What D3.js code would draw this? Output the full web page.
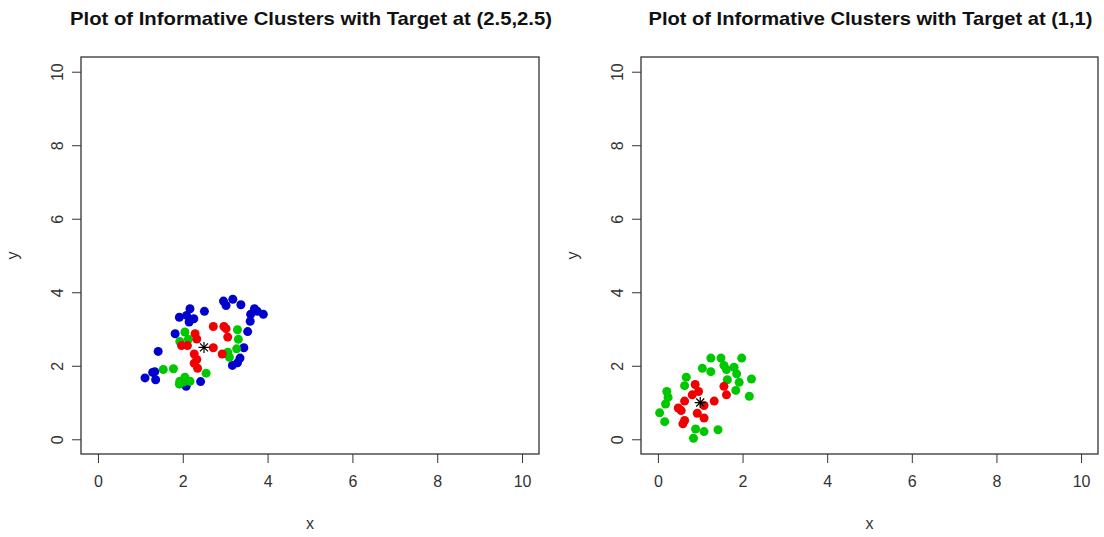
<!DOCTYPE html>
<html>
<head>
<meta charset="utf-8">
<script src="https://cdn.jsdelivr.net/npm/d3@7"></script>
<style>
  body { margin: 0; background: #fff; }
  svg { display: block; }
</style>
</head>
<body>
<div id="chart"></div>
<script>
// values
var titles = ["Plot of Informative Clusters with Target at (2.5,2.5)",
              "Plot of Informative Clusters with Target at (1,1)"];
var tickValues = [0, 2, 4, 6, 8, 10];
var targets = [[2.5, 2.5], [1, 1]];

var leftBlue = [[2.96,3.76],[3.02,3.64],[3.18,3.81],[3.37,3.66],[2.17,3.55],[2.51,3.48],
  [1.92,3.32],[2.09,3.37],[2.26,3.28],[2.15,3.19],[3.69,3.55],[3.76,3.48],[3.60,3.40],
  [3.90,3.40],[3.59,3.21],[3.53,2.93],[1.82,2.87],[1.42,2.39],[3.44,2.49],[3.35,2.21],
  [3.29,2.08],[3.17,2.01],[1.34,1.84],[1.29,1.82],[1.11,1.67],[1.36,1.62],[2.42,1.57],
  [2.08,1.44]];
var leftRed = [[2.72,3.07],[2.97,3.07],[3.02,3.01],[3.06,2.78],[2.29,2.87],[2.33,2.73],
  [1.97,2.55],[2.11,2.55],[2.72,2.49],[2.93,2.32],[2.27,2.32],[2.33,2.17],[2.27,2.07],
  [2.35,1.93]];
var leftGreen = [[2.05,2.92],[1.93,2.66],[2.13,2.72],[3.29,2.98],[3.31,2.72],[3.27,2.46],
  [3.06,2.37],[3.10,2.23],[1.54,1.90],[1.78,1.92],[2.55,1.80],[2.05,1.69],[1.93,1.58],
  [1.92,1.50],[2.17,1.58],[2.01,1.56]];

var rightRed = [[0.88,1.49],[0.96,1.30],[0.81,1.21],[1.56,1.44],[1.62,1.21],[0.63,1.04],
  [1.33,1.04],[1.09,0.92],[0.48,0.85],[0.55,0.78],[0.93,0.71],[1.09,0.58],[0.63,0.51],
  [0.59,0.42]];
var rightGreen = [[1.25,2.21],[1.49,2.21],[1.98,2.21],[1.05,1.93],[1.25,1.84],[1.56,2.01],
  [1.62,1.90],[1.80,1.96],[1.86,1.78],[1.64,1.62],[1.92,1.55],[2.21,1.64],[1.84,1.33],
  [2.16,1.17],[0.67,1.69],[0.63,1.46],[0.21,1.30],[0.24,1.14],[0.18,0.96],[0.04,0.72],
  [0.16,0.48],[0.89,0.28],[1.09,0.21],[1.42,0.26],[0.84,0.03]];

var colors = {blue: "#0000cd", red: "#f00000", green: "#00c800"};

var panels = [
  {title: titles[0], target: targets[0], titleWidth: 482,
   groups: [{pts: leftBlue, col: colors.blue}, {pts: leftGreen, col: colors.green}, {pts: leftRed, col: colors.red}]},
  {title: titles[1], target: targets[1], titleWidth: 444,
   groups: [{pts: rightGreen, col: colors.green}, {pts: rightRed, col: colors.red}]}
];

var W = 1104, H = 537;
var boxes = [{left: 81, right: 539}, {left: 641, right: 1098}];
var boxTop = 57, boxBottom = 454;

var svg = d3.select("#chart").append("svg")
  .attr("width", W)
  .attr("height", H)
  .style("font-family", "Liberation Sans, Arial, sans-serif");

panels.forEach(function(p, i) {
  var b = boxes[i];
  var x = d3.scaleLinear().domain([-0.4, 10.4]).range([b.left, b.right]);
  var y = d3.scaleLinear().domain([-0.4, 10.4]).range([boxBottom, boxTop]);
  var g = svg.append("g");

  g.append("text")
    .attr("x", (b.left + b.right) / 2 + 1)
    .attr("y", 25)
    .attr("text-anchor", "middle")
    .attr("textLength", p.titleWidth)
    .attr("lengthAdjust", "spacingAndGlyphs")
    .style("font-size", "19px")
    .style("font-weight", "700")
    .attr("fill", "#111")
    .text(p.title);

  // axes
  var xAxis = g.append("g")
    .attr("transform", "translate(0," + boxBottom + ")")
    .call(d3.axisBottom(x).tickValues(tickValues).tickSize(9).tickPadding(13).tickFormat(d3.format("d")));
  var yAxis = g.append("g")
    .attr("transform", "translate(" + b.left + ",0)")
    .call(d3.axisLeft(y).tickValues(tickValues).tickSize(9).tickFormat(d3.format("d")));

  [xAxis, yAxis].forEach(function(a) {
    a.select(".domain").remove();
    a.selectAll("line").attr("stroke", "#333");
    a.selectAll("text").style("font-size", "16px").attr("fill", "#333")
      .style("font-family", "Liberation Sans, Arial, sans-serif");
  });
  // R style: y labels parallel to the axis
  yAxis.selectAll(".tick text")
    .attr("x", null).attr("dy", null)
    .attr("text-anchor", "middle")
    .attr("transform", "translate(-24,0) rotate(-90)")
    .attr("dy", "0.35em");

  g.append("rect")
    .attr("x", b.left).attr("y", boxTop)
    .attr("width", b.right - b.left).attr("height", boxBottom - boxTop)
    .attr("fill", "none").attr("stroke", "#333").attr("stroke-width", 1.3);

  g.append("text")
    .attr("x", (b.left + b.right) / 2)
    .attr("y", 529)
    .attr("text-anchor", "middle")
    .style("font-size", "16px").attr("fill", "#333")
    .text("x");
  g.append("text")
    .attr("transform", "translate(" + (b.left - 63) + "," + ((boxTop + boxBottom) / 2) + ") rotate(-90)")
    .attr("text-anchor", "middle")
    .style("font-size", "16px").attr("fill", "#333")
    .text("y");

  p.groups.forEach(function(grp) {
    g.append("g").selectAll("circle")
      .data(grp.pts)
      .enter().append("circle")
      .attr("cx", function(d) { return x(d[0]); })
      .attr("cy", function(d) { return y(d[1]); })
      .attr("r", 4.5)
      .attr("fill", grp.col);
  });

  g.append("path")
    .datum(p.target)
    .attr("transform", function(d) { return "translate(" + x(d[0]) + "," + y(d[1]) + ")"; })
    .attr("d", "M-5.5,0H5.5M0,-5.5V5.5M-4,-4L4,4M-4,4L4,-4")
    .attr("stroke", "#000")
    .attr("stroke-width", 1.2)
    .attr("fill", "none");
});
</script>
</body>
</html>
